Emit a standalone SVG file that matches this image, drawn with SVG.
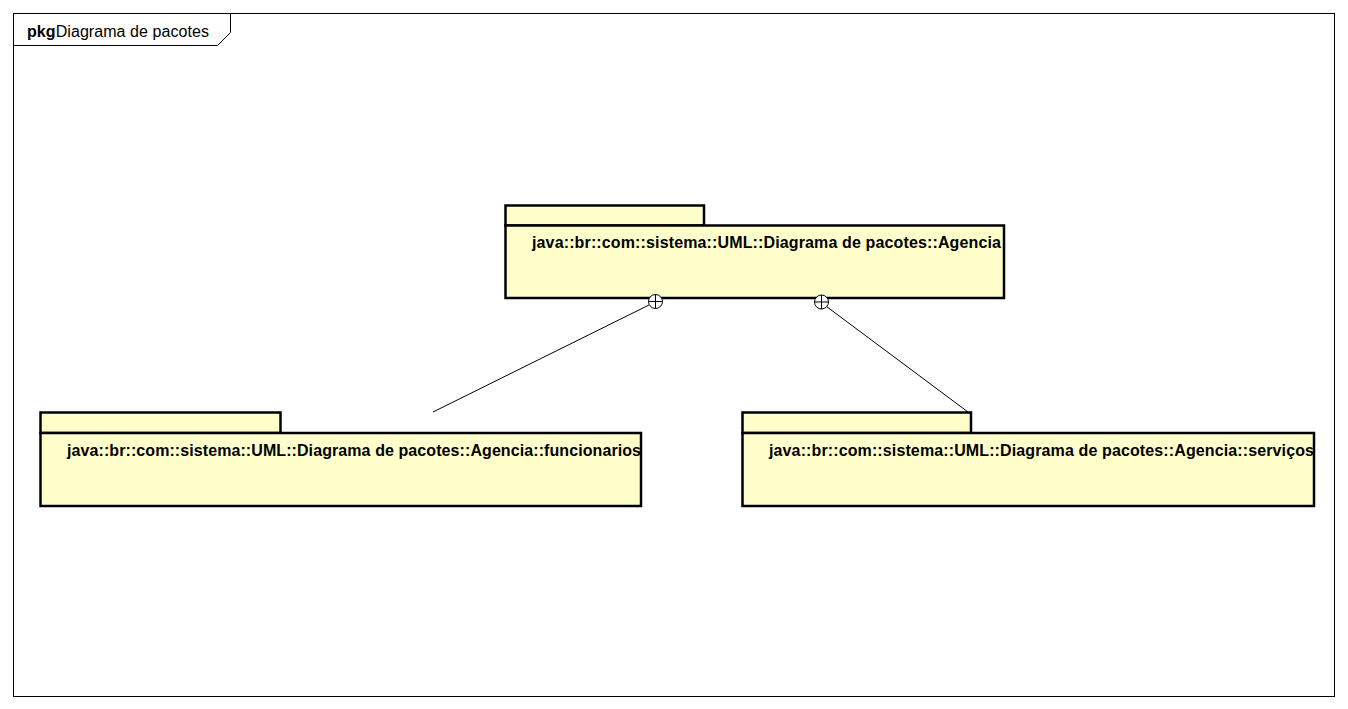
<svg xmlns="http://www.w3.org/2000/svg" width="1348" height="709" viewBox="0 0 1348 709">
  <style>
    .frame { fill: none; stroke: #000; stroke-width: 1; }
    .pkg { fill: #ffffcc; stroke: #000; stroke-width: 2.5; }
    .pkgname { font-family: "Liberation Sans", Arial, sans-serif; font-size: 16px; font-weight: bold; fill: #000; }
    .title { font-family: "Liberation Sans", Arial, sans-serif; font-size: 16px; fill: #000; }
    .conn { fill: none; stroke: #000; stroke-width: 1; }
    .nest { fill: #fff; stroke: #000; stroke-width: 1; }
  </style>
  <rect width="1348" height="709" fill="#fff"/>

  <!-- diagram frame -->
  <g id="frame">
    <rect class="frame" x="13.5" y="13.5" width="1321" height="683"/>
    <path class="frame" d="M13.5 45.5 H217.5 L230.5 32.5 V13.5"/>
    <text class="title" x="27" y="37" textLength="182"><tspan font-weight="bold">pkg</tspan>Diagrama de pacotes</text>
  </g>

  <!-- package: Agencia -->
  <g id="pkg-agencia">
    <rect class="pkg" x="505.5" y="205.5" width="198.5" height="20"/>
    <rect class="pkg" x="505.5" y="225.5" width="498.5" height="72.5"/>
    <text class="pkgname" x="532" y="248" textLength="469">java::br::com::sistema::UML::Diagrama de pacotes::Agencia</text>
  </g>

  <!-- package: funcionarios -->
  <g id="pkg-funcionarios">
    <rect class="pkg" x="40.5" y="412.5" width="240" height="20.5"/>
    <rect class="pkg" x="40.5" y="433" width="600.5" height="73"/>
    <text class="pkgname" x="67" y="456" textLength="574">java::br::com::sistema::UML::Diagrama de pacotes::Agencia::funcionarios</text>
  </g>

  <!-- package: serviços -->
  <g id="pkg-servicos">
    <rect class="pkg" x="742.5" y="412.5" width="228.5" height="20.5"/>
    <rect class="pkg" x="742.5" y="433" width="571.5" height="73"/>
    <text class="pkgname" x="769" y="456" textLength="545">java::br::com::sistema::UML::Diagrama de pacotes::Agencia::serviços</text>
  </g>

  <!-- containment connectors (drawn over the package borders) -->
  <g id="connectors">
    <line class="conn" x1="649" y1="305" x2="433" y2="412"/>
    <circle class="nest" cx="655.5" cy="301.5" r="7"/>
    <path class="conn" d="M648.5 301.5 H662.5 M655.5 294.5 V308.5"/>
    <line class="conn" x1="826.5" y1="306.5" x2="968" y2="412"/>
    <circle class="nest" cx="821.5" cy="302" r="7"/>
    <path class="conn" d="M814.5 302 H828.5 M821.5 295 V309"/>
  </g>
</svg>
